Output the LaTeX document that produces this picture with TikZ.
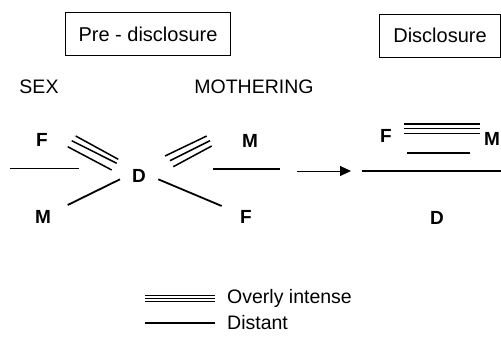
\documentclass[tikz,border=0pt]{standalone}
\usepackage{fontspec}
\setmainfont{Liberation Sans}
\usetikzlibrary{arrows.meta}
\begin{document}
\begin{tikzpicture}[x=1pt,y=-1pt,
  lbl/.style={font=\fontsize{19.5}{22}\selectfont, inner sep=0pt, anchor=center},
  letter/.style={font=\fontsize{19}{21}\selectfont\bfseries, inner sep=0pt, anchor=center},
  titlebox/.style={draw, line width=1pt, font=\fontsize{20}{22}\selectfont, inner sep=0pt, minimum height=43pt},
  rel/.style={line width=1.8pt},
  intense/.style={line width=1.5pt},
  conn/.style={line width=1pt, -{Triangle[length=11pt,width=10pt]}}
]
\useasboundingbox (0,0) rectangle (501,348);
% title boxes
\node[titlebox, minimum width=165pt] (pre) at (148,34) {Pre - disclosure};
\node[titlebox, minimum width=121pt] (dis) at (440,35.5) {Disclosure};
% headings
\node[lbl] (sex) at (39,87) {SEX};
\node[lbl] (moth) at (254,87) {MOTHERING};
% left diagram letters
\node[letter] (F1) at (42,140) {F};
\node[letter] (M1) at (43,217) {M};
\node[letter] (D1) at (139,176) {D};
\node[letter] (M2) at (250,141) {M};
\node[letter] (F2) at (246,217) {F};
% right diagram letters
\node[letter] (F3) at (386,136) {F};
\node[letter] (M3) at (492,139) {M};
\node[letter] (D3) at (437,218) {D};
% endpoint coordinates
\coordinate (a1) at (10,168.5); \coordinate (a2) at (79,168.5);
\coordinate (b1) at (75.7,136); \coordinate (b2) at (118.3,159.3);
\coordinate (c1) at (71.7,140.7); \coordinate (c2) at (116.7,163.3);
\coordinate (d1) at (67.7,146.7); \coordinate (d2) at (111.7,170);
\coordinate (e1) at (165,156); \coordinate (e2) at (206.7,136);
\coordinate (f1) at (170,160.7); \coordinate (f2) at (210,140.7);
\coordinate (g1) at (173.3,166.7); \coordinate (g2) at (211.7,146);
\coordinate (h1) at (67.7,205); \coordinate (h2) at (120,179.3);
\coordinate (i1) at (158.3,179.3); \coordinate (i2) at (221.7,206);
\coordinate (j1) at (213,169); \coordinate (j2) at (280,169);
\coordinate (k1) at (297,171); \coordinate (k2) at (351,171);
\coordinate (l1) at (362,171); \coordinate (l2) at (501,171);
\coordinate (m1) at (404,124); \coordinate (m2) at (480,124);
\coordinate (n1) at (404,128.7); \coordinate (n2) at (480,128.7);
\coordinate (o1) at (404,133.3); \coordinate (o2) at (480,133.3);
\coordinate (p1) at (407,153); \coordinate (p2) at (470,153);
% left diagram
\draw[rel] (a1) -- (a2);
\draw[intense] (b1) -- (b2);
\draw[intense] (c1) -- (c2);
\draw[intense] (d1) -- (d2);
\draw[intense] (e1) -- (e2);
\draw[intense] (f1) -- (f2);
\draw[intense] (g1) -- (g2);
\draw[rel] (h1) -- (h2);
\draw[rel] (i1) -- (i2);
\draw[rel] (j1) -- (j2);
% arrow
\draw[conn] (k1) -- (k2);
% right diagram
\draw[line width=2.4pt] (l1) -- (l2);
\draw[intense] (m1) -- (m2);
\draw[intense] (n1) -- (n2);
\draw[intense] (o1) -- (o2);
\draw[rel] (p1) -- (p2);
% legend
\coordinate (q1) at (145,295.5); \coordinate (q2) at (215,295.5);
\coordinate (r1) at (145,298.5); \coordinate (r2) at (215,298.5);
\coordinate (s1) at (145,301.5); \coordinate (s2) at (215,301.5);
\coordinate (t1) at (145,323); \coordinate (t2) at (215,323);
\draw[line width=1.2pt] (q1) -- (q2);
\draw[line width=1.2pt] (r1) -- (r2);
\draw[line width=1.2pt] (s1) -- (s2);
\draw[line width=1.2pt] (t1) -- (t2);
\node[lbl, anchor=west] (leg1) at (227,298) {Overly intense};
\node[lbl, anchor=west] (leg2) at (227,323) {Distant};
\end{tikzpicture}
\end{document}
